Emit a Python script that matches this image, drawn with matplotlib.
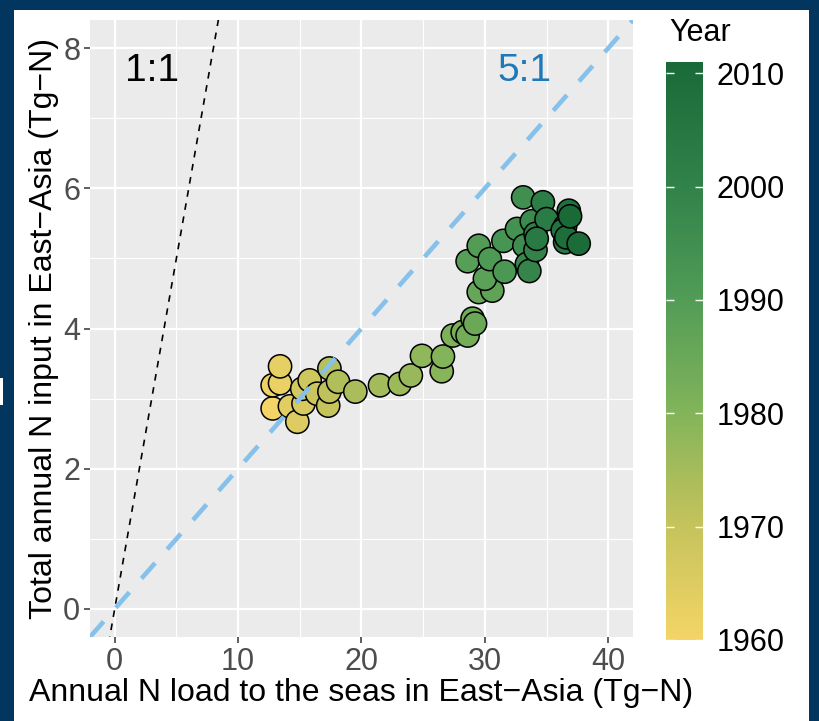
import numpy as np
import matplotlib
matplotlib.use("Agg")
import matplotlib.pyplot as plt
from matplotlib.colors import LinearSegmentedColormap, Normalize
from matplotlib.patches import Rectangle

plt.rcParams['font.family'] = ['Liberation Sans', 'DejaVu Sans']

# data (Tg-N)
years = np.arange(1960, 2012)
n_load = [12.8, 12.8, 13.4, 13.4, 14.2, 14.8, 15.3, 15.2, 15.8, 16.4,
          17.3, 17.4, 17.4, 18.1, 19.5, 21.5, 23.1, 24.0, 24.9, 26.5,
          26.6, 27.4, 28.2, 28.6, 29.0, 29.2, 29.5, 30.6, 30.0, 28.6,
          29.5, 30.4, 31.6, 31.5, 32.6, 33.1, 33.2, 33.8, 33.4, 33.6,
          34.1, 34.1, 34.7, 35.0, 34.2, 36.5, 36.5, 36.3, 36.8, 36.6,
          37.6, 36.9]
n_input = [2.86, 3.19, 3.22, 3.46, 2.89, 2.67, 2.93, 3.14, 3.26, 3.07,
           2.90, 3.10, 3.43, 3.24, 3.10, 3.19, 3.21, 3.33, 3.61, 3.39,
           3.60, 3.90, 3.95, 3.90, 4.14, 4.07, 4.52, 4.54, 4.71, 4.96,
           5.18, 4.99, 4.81, 5.25, 5.42, 5.87, 5.18, 5.53, 4.92, 4.82,
           5.12, 5.35, 5.80, 5.56, 5.28, 5.23, 5.46, 5.40, 5.68, 5.30,
           5.21, 5.60]

x_ticks = [0, 10, 20, 30, 40]
y_ticks = [0, 2, 4, 6, 8]
year_ticks = [1960, 1970, 1980, 1990, 2000, 2010]

cmap = LinearSegmentedColormap.from_list(
    "yeargreen",
    [(0.0, '#F4D466'), (0.2, '#C4C35C'), (0.4, '#80B35A'),
     (0.6, '#4F9B56'), (0.8, '#2F8049'), (1.0, '#1A6A38')])
norm = Normalize(vmin=1960, vmax=2011)

fig = plt.figure(figsize=(8.2, 7.21), dpi=100)
fig.patch.set_facecolor('#02365F')
# white page inside the navy frame
fig.patches.append(Rectangle((14 / 820, 0), (809 - 14) / 820, (721 - 10) / 721,
                             transform=fig.transFigure, facecolor='white',
                             edgecolor='none', zorder=-10))
fig.patches.append(Rectangle((0, (721 - 405) / 721), 3 / 820, 27 / 721,
                             transform=fig.transFigure, facecolor='white',
                             edgecolor='none', zorder=-10))

ax = fig.add_axes([90 / 820, (721 - 637) / 721, (633 - 90) / 820, (637 - 20) / 721])
ax.set_facecolor('#EBEBEB')
ax.set_xlim(-2, 42)
ax.set_ylim(-0.4, 8.4)
ax.set_xticks(x_ticks)
ax.set_yticks(y_ticks)
ax.set_xticks([5, 15, 25, 35], minor=True)
ax.set_yticks([1, 3, 5, 7], minor=True)
ax.grid(which='major', color='white', linewidth=1.6)
ax.grid(which='minor', color='white', linewidth=0.8)
ax.set_axisbelow(True)
for s in ax.spines.values():
    s.set_visible(False)
ax.tick_params(which='major', length=4, width=1.1, color='#333333',
               labelsize=22, labelcolor='#4D4D4D', pad=3)
ax.tick_params(which='minor', length=0)

ax.scatter(n_load, n_input, c=years, cmap=cmap, norm=norm, s=280,
           edgecolors='black', linewidths=1.1, zorder=3)

xs = np.array([-2, 42])
ax.plot(xs, xs, color='black', linestyle=(0, (4, 4)), linewidth=1.2, zorder=4)
ax.plot(xs, xs / 5, color='#85C1EA', linestyle=(0, (4.5, 4)), linewidth=3.3, zorder=4)
ax.text(3.0, 7.67, "1:1", fontsize=28, color='black', ha='center', va='center')
ax.text(33.2, 7.67, "5:1", fontsize=28, color='#1F78B8', ha='center', va='center')

ax.set_xlabel("Annual N load to the seas in East\u2212Asia (Tg\u2212N)", fontsize=23,
              color='black', labelpad=1)
ax.set_ylabel("Total annual N input in East\u2212Asia (Tg\u2212N)", fontsize=23,
              color='black', labelpad=3)

cax = fig.add_axes([666 / 820, (721 - 640) / 721, 37 / 820, (640 - 62) / 721])
sm = matplotlib.cm.ScalarMappable(norm=norm, cmap=cmap)
cb = fig.colorbar(sm, cax=cax, ticks=year_ticks)
cb.outline.set_visible(False)
cax.tick_params(left=True, right=True, direction='in', color='white',
                length=6, width=1, labelsize=22, labelcolor='black', pad=10)
fig.text(700 / 820, (721 - 33) / 721, "Year", fontsize=22, ha='center', va='center')

fig.savefig("out.png", dpi=100, facecolor=fig.get_facecolor())
